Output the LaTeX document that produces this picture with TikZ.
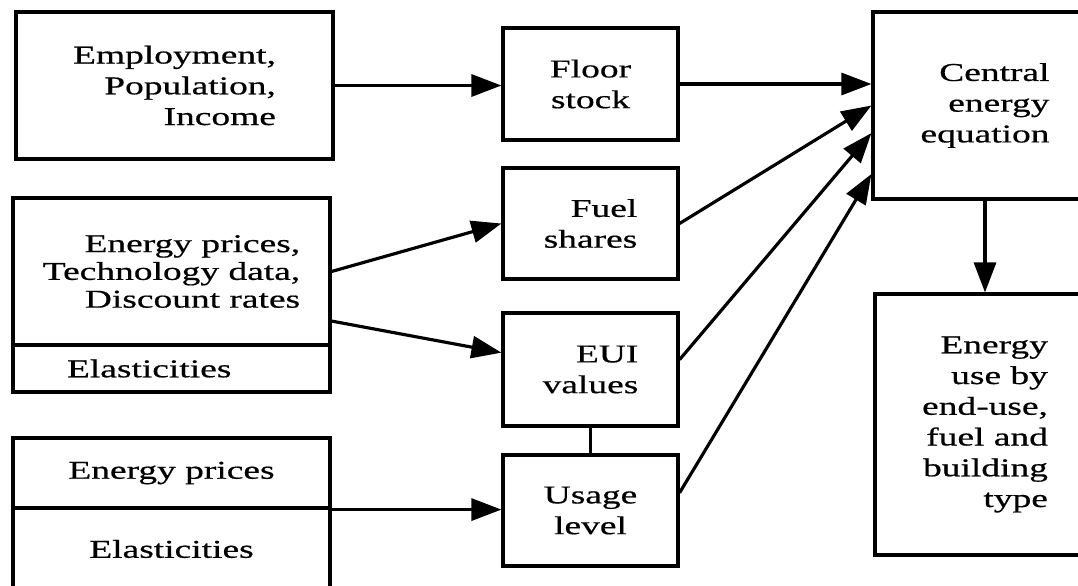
\documentclass[tikz,border=0pt]{standalone}
\usepackage{fontspec}
\setmainfont{Liberation Serif}[FakeStretch=1.46,FakeBold=0.6]
\usetikzlibrary{arrows.meta,calc}

\begin{document}
\begin{tikzpicture}[x=0.02cm,y=-0.02cm,
	box/.style={draw,line width=1.8pt,inner sep=0pt,font=\fontsize{14.6}{17.5}\selectfont},
	arr/.style={line width=1.8pt,-{Triangle[length=0.6cm,width=0.44cm]}}]

	\useasboundingbox (0,0) rectangle (1078,585);
	\clip (0,0) rectangle (1078,585);

	% Inputs
	\node[box,minimum width=6.34cm,minimum height=2.94cm,align=right] (drivers) at (174.5,85.5)
		{Employment,\\Population,\\Income};
	\node[box,minimum width=6.34cm,minimum height=2.94cm,align=right,
		font=\fontsize{14.6}{15.8}\selectfont] (prices) at (171.5,271.5)
		{Energy prices,\\Technology data,\\Discount rates};
	\node[box,minimum width=6.34cm,minimum height=0.94cm,text width=4.18cm,align=left] (elastA) at (171.5,368.5) {Elasticities};
	\node[box,minimum width=6.34cm,minimum height=1.4cm] (pricesB) at (171.5,473) {Energy prices};
	\node[box,minimum width=6.34cm,minimum height=1.64cm] (elastB) at (171.5,549) {Elasticities};

	% Submodules
	\node[box,minimum width=3.5cm,minimum height=2.24cm,align=center] (floor) at (590.5,84) {Floor\\stock};
	\node[box,minimum width=3.5cm,minimum height=2.22cm,align=right] (fuel) at (590.5,223.5) {Fuel\\shares};
	\node[box,minimum width=3.5cm,minimum height=2.26cm,align=right] (eui) at (590.5,369.5) {EUI\\values};
	\node[box,minimum width=3.5cm,minimum height=2.22cm,align=center] (usage) at (590.5,510.5) {Usage\\level};

	% Central equation and output
	\node[box,minimum width=4.48cm,minimum height=3.74cm,align=right] (central) at (985,105.5)
		{Central\\energy\\equation};
	\node[box,minimum width=4.4cm,minimum height=5.22cm,align=right] (output) at (985,424.5)
		{Energy\\use by\\end-use,\\fuel and\\building\\type};

	% Arrows into submodules
	\draw[arr] (drivers.east) -- (drivers.east -| floor.west);
	\draw[arr] (prices.east) -- (fuel.west);
	\draw[arr] ($(prices.east)!0.66!(prices.south east)$) -- ($(eui.west)!0.29!(eui.north west)$);
	\draw[arr] (pricesB.south east) -- (pricesB.south east -| usage.west);
	\draw[line width=1.8pt] (eui.south) -- (usage.north);

	% Arrows into central equation
	\draw[arr] (floor.east) -- (floor.east -| central.west);
	\draw[arr] (fuel.east) -- (central.west);
	\draw[arr] ($(eui.east)!0.17!(eui.north east)$) -- ($(central.west)!0.29!(central.south west)$);
	\draw[arr] ($(usage.east)!0.31!(usage.north east)$) -- ($(central.west)!0.72!(central.south west)$);
	\draw[arr] (central.south) -- (output.north);

\end{tikzpicture}
\end{document}
